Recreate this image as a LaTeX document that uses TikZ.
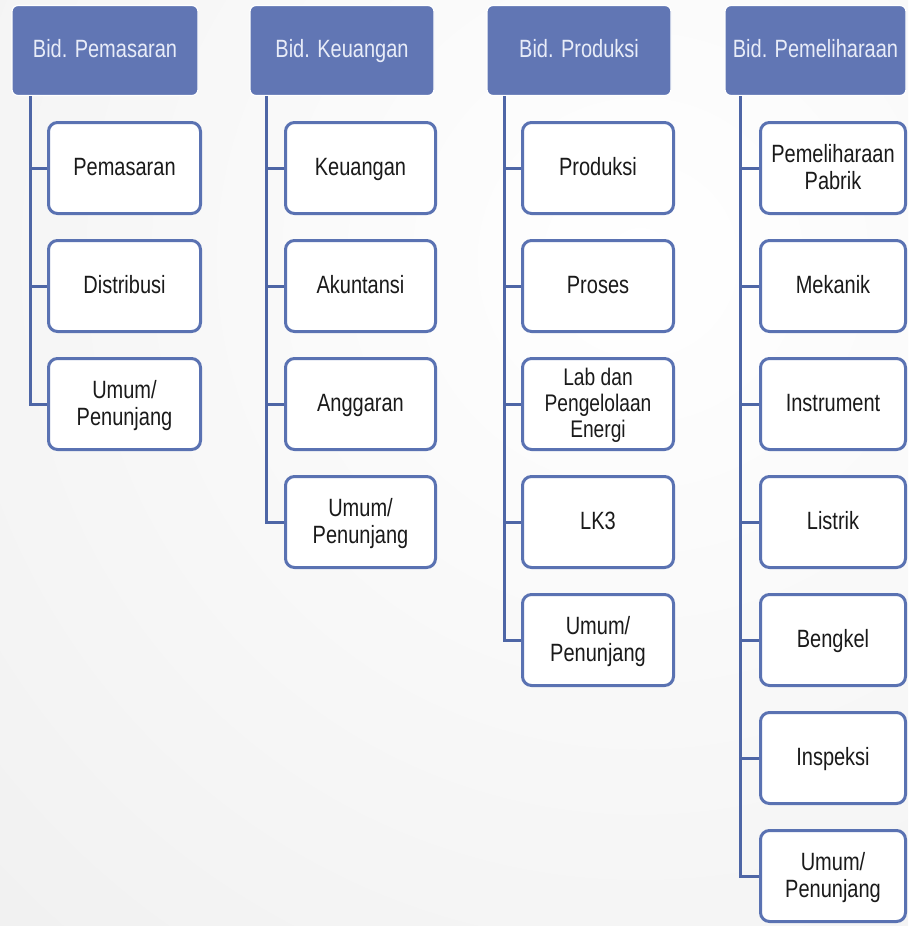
\documentclass[tikz,border=0pt]{standalone}
\usepackage{fontspec}
\setmainfont{Liberation Sans}[FakeStretch=0.8]
\definecolor{hdrfill}{HTML}{6176B4}
\definecolor{hdrtext}{HTML}{E8ECF8}
\definecolor{boxline}{HTML}{5A72B2}
\definecolor{linkcol}{HTML}{4E66A6}
\definecolor{bgedge}{HTML}{E8E8E8}
\definecolor{bodytext}{HTML}{1A1A1A}
\begin{document}
\begin{tikzpicture}[x=1pt,y=-1pt,
  hdr/.style={rectangle, rounded corners=6pt, fill=hdrfill, draw=white,
    line width=1.2pt, minimum height=90pt, inner sep=0pt, text=hdrtext,
    text depth=5pt, font=\fontsize{25}{27}\selectfont},
  unit/.style={rectangle, rounded corners=9pt, fill=white, draw=boxline,
    line width=3pt, minimum height=91pt, inner sep=0pt, align=center,
    text depth=3pt, text=bodytext, font=\fontsize{25}{27}\selectfont},
  link/.style={draw=linkcol, line width=3pt}
]
% page and soft background
\useasboundingbox (0,0) rectangle (908,926);
\fill[bgedge] (0,0) rectangle (908,926);
\begin{scope}
  \clip (0,0) rectangle (908,926);
  \shade[inner color=white, outer color=bgedge] (640,260) circle (1500);
\end{scope}

% column spines
\coordinate (v1) at (30,0);
\coordinate (v2) at (266,0);
\coordinate (v3) at (504,0);
\coordinate (v4) at (740,0);

% headers
\node[hdr, minimum width=186pt] (h1) at (105,50.5) {Bid. Pemasaran};
\node[hdr, minimum width=184pt] (h2) at (342,50.5) {Bid. Keuangan};
\node[hdr, minimum width=184pt] (h3) at (579,50.5) {Bid. Produksi};
\node[hdr, minimum width=181pt] (h4) at (815.5,50.5) {Bid. Pemeliharaan};

% Bid. Pemasaran
\begin{scope}[every node/.append style={minimum width=152pt}]
\node[unit] (a1) at (124.5,168) {Pemasaran};
\node[unit] (a2) at (124.5,286) {Distribusi};
\node[unit] (a3) at (124.5,404) {Umum/\\Penunjang};
\end{scope}

% Bid. Keuangan
\begin{scope}[every node/.append style={minimum width=150pt}]
\node[unit] (b1) at (360.5,168) {Keuangan};
\node[unit] (b2) at (360.5,286) {Akuntansi};
\node[unit] (b3) at (360.5,404) {Anggaran};
\node[unit] (b4) at (360.5,522) {Umum/\\Penunjang};
\end{scope}

% Bid. Produksi
\begin{scope}[every node/.append style={minimum width=151pt}]
\node[unit] (c1) at (598,168) {Produksi};
\node[unit] (c2) at (598,286) {Proses};
\node[unit, font=\fontsize{24}{26}\selectfont] (c3) at (598,404) {Lab dan\\Pengelolaan\\Energi};
\node[unit] (c4) at (598,522) {LK3};
\node[unit] (c5) at (598,640) {Umum/\\Penunjang};
\end{scope}

% Bid. Pemeliharaan
\begin{scope}[every node/.append style={minimum width=145pt}]
\node[unit] (d1) at (833,168) {Pemeliharaan\\Pabrik};
\node[unit] (d2) at (833,286) {Mekanik};
\node[unit] (d3) at (833,404) {Instrument};
\node[unit] (d4) at (833,522) {Listrik};
\node[unit] (d5) at (833,640) {Bengkel};
\node[unit] (d6) at (833,758) {Inspeksi};
\node[unit] (d7) at (833,876) {Umum/\\Penunjang};
\end{scope}

% connectors: spine down to the last unit, ticks to the others
\draw[link] (h1.south -| v1) |- (a3.west);
\foreach \n in {a1,a2} \draw[link] (\n.west -| v1) -- (\n.west);
\draw[link] (h2.south -| v2) |- (b4.west);
\foreach \n in {b1,b2,b3} \draw[link] (\n.west -| v2) -- (\n.west);
\draw[link] (h3.south -| v3) |- (c5.west);
\foreach \n in {c1,c2,c3,c4} \draw[link] (\n.west -| v3) -- (\n.west);
\draw[link] (h4.south -| v4) |- (d7.west);
\foreach \n in {d1,d2,d3,d4,d5,d6} \draw[link] (\n.west -| v4) -- (\n.west);
\end{tikzpicture}
\end{document}
